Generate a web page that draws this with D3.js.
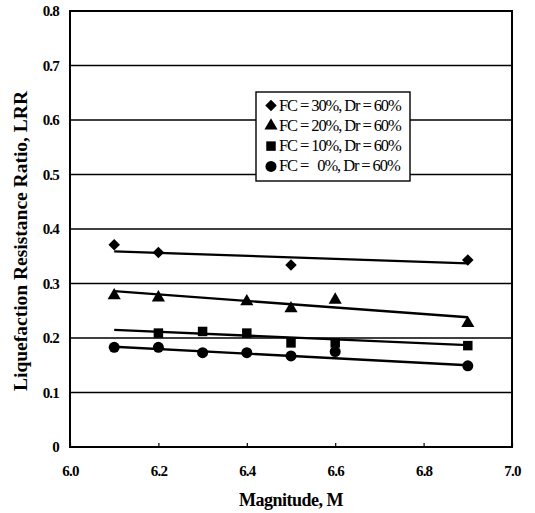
<!DOCTYPE html>
<html><head><meta charset="utf-8">
<script src="https://cdn.jsdelivr.net/npm/d3@7"></script>
<style>body{margin:0;background:#fff}svg{display:block}text{font-family:"Liberation Serif","Times New Roman",serif;fill:#000}</style>
</head><body><svg id="c" width="535" height="513"></svg>
<script>
const xTicks = [6.0, 6.2, 6.4, 6.6, 6.8, 7.0];
const xTickLabels = ["6.0", "6.2", "6.4", "6.6", "6.8", "7.0"];
const yTicks = [0, 0.1, 0.2, 0.3, 0.4, 0.5, 0.6, 0.7, 0.8];
const yTickLabels = ["0", "0.1", "0.2", "0.3", "0.4", "0.5", "0.6", "0.7", "0.8"];
const seriesNames = ["FC = 30%, Dr = 60%", "FC = 20%, Dr = 60%", "FC = 10%, Dr = 60%", "FC =   0%, Dr = 60%"];
const fc30M = [6.1, 6.2, 6.5, 6.9];
const fc30LRR = [0.371, 0.357, 0.334, 0.343];
const fc20M = [6.1, 6.2, 6.4, 6.5, 6.6, 6.9];
const fc20LRR = [0.278, 0.274, 0.267, 0.254, 0.270, 0.227];
const fc10M = [6.2, 6.3, 6.4, 6.5, 6.6, 6.9];
const fc10LRR = [0.209, 0.212, 0.209, 0.191, 0.191, 0.186];
const fc0M = [6.1, 6.2, 6.3, 6.4, 6.5, 6.6, 6.9];
const fc0LRR = [0.183, 0.183, 0.173, 0.173, 0.167, 0.175, 0.149];
const trendM = [6.1, 6.9];
const trend30 = [0.359, 0.337];
const trend20 = [0.286, 0.238];
const trend10 = [0.215, 0.187];
const trend0 = [0.184, 0.150];

const svg = d3.select("#c");
const L = 70, R = 512, T = 11, B = 447;
const x = d3.scaleLinear().domain([6.0, 7.0]).range([L, R]);
const y = d3.scaleLinear().domain([0, 0.8]).range([B, T]);

// gridlines
svg.append("g").selectAll("line").data(yTicks.slice(1, -1)).join("line")
  .attr("x1", L).attr("x2", R).attr("y1", d => y(d)).attr("y2", d => y(d))
  .attr("stroke", "#000").attr("stroke-width", 1.6);

// frame
svg.append("rect").attr("x", L).attr("y", T).attr("width", R - L).attr("height", B - T)
  .attr("fill", "none").attr("stroke", "#000").attr("stroke-width", 2);

// x axis
const xAxis = d3.axisBottom(x).tickValues(xTicks).tickSize(-4)
  .tickFormat((d, i) => xTickLabels[i]).tickPadding(18);
const gx = svg.append("g").attr("transform", `translate(0,${B})`).call(xAxis);
gx.select(".domain").remove();
gx.selectAll("line").attr("stroke", "#000").attr("stroke-width", 1.2);
gx.selectAll("text").attr("font-size", 15).attr("font-weight", "bold").attr("font-family", "Liberation Serif").attr("letter-spacing", -0.8);

// y axis
const yAxis = d3.axisLeft(y).tickValues(yTicks).tickSize(0)
  .tickFormat((d, i) => yTickLabels[i]).tickPadding(11);
const gy = svg.append("g").attr("transform", `translate(${L},0)`).call(yAxis);
gy.select(".domain").remove();
gy.selectAll("text").attr("font-size", 15).attr("font-weight", "bold").attr("font-family", "Liberation Serif").attr("letter-spacing", -0.8);

// titles
svg.append("text").attr("x", (L + R) / 2).attr("y", 506).attr("text-anchor", "middle")
  .attr("font-size", 18).attr("font-weight", "bold").attr("letter-spacing", -0.5).text("Magnitude, M");
svg.append("text").attr("transform", `translate(27,${(T + B) / 2 + 12}) rotate(-90)`)
  .attr("text-anchor", "middle").attr("font-size", 19.5).attr("font-weight", "bold")
  .text("Liquefaction Resistance Ratio, LRR");

// trend lines
const trends = [trend30, trend20, trend10, trend0];
const line = d3.line().x(d => x(d[0])).y(d => y(d[1]));
trends.forEach(t => {
  svg.append("path").attr("d", line(trendM.map((m, i) => [m, t[i]])))
    .attr("fill", "none").attr("stroke", "#000").attr("stroke-width", 2.4);
});

// markers
const sym = [
  d3.symbol().type(d3.symbolDiamond2).size(85),
  d3.symbol().type(d3.symbolTriangle).size(75),
  d3.symbol().type(d3.symbolSquare).size(90),
  d3.symbol().type(d3.symbolCircle).size(95)
];
const ser = [[fc30M, fc30LRR], [fc20M, fc20LRR], [fc10M, fc10LRR], [fc0M, fc0LRR]];
ser.forEach((s, k) => {
  svg.append("g").selectAll("path").data(s[0].map((m, i) => [m, s[1][i]])).join("path")
    .attr("transform", d => `translate(${x(d[0])},${y(d[1])})`)
    .attr("d", sym[k]()).attr("fill", "#000");
});

// legend
const lg = svg.append("g");
lg.append("rect").attr("x", 256).attr("y", 92).attr("width", 154).attr("height", 89)
  .attr("fill", "#fff").attr("stroke", "#000").attr("stroke-width", 1.4);
seriesNames.forEach((n, k) => {
  const cy = 105.5 + k * 20.3;
  lg.append("path").attr("transform", `translate(271,${cy})`).attr("d", sym[k]()).attr("fill", "#000");
  lg.append("text").attr("x", 279).attr("y", cy + 5).attr("font-size", 16.5)
    .attr("xml:space", "preserve").style("white-space", "pre").attr("letter-spacing", -1.1).text(n);
});
</script></body></html>
